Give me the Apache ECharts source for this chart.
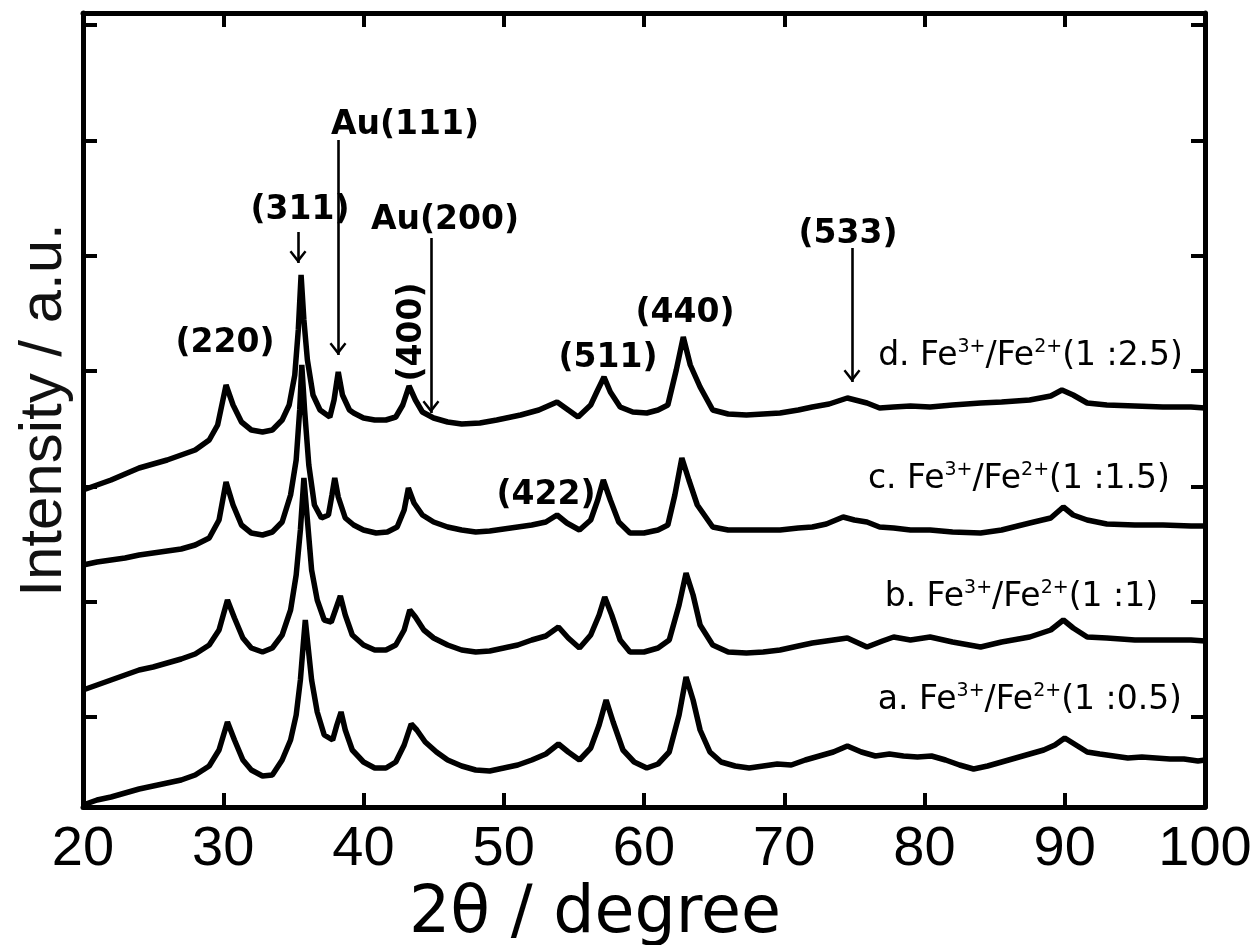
<!DOCTYPE html>
<html><head><meta charset="utf-8">
<script src="https://cdn.jsdelivr.net/npm/echarts@6/dist/echarts.min.js"></script>
<style>html,body{margin:0;padding:0;background:#fff}#chart{width:1260px;height:945px}</style>
</head><body><div id="chart"></div>
<script>
// ---- data (2θ in degrees, intensity in a.u., traces already vertically offset) ----
const theta_a = [20,21,22,23,24,25,26,27,28,29,29.7,30.3,30.8,31.4,32,32.8,33.5,34.2,34.8,35.2,35.5,35.7,35.85,36,36.3,36.7,37.2,37.8,38.1,38.4,38.7,39.2,40,40.8,41.6,42.3,42.9,43.4,43.8,44.4,45.2,46,47,48,49,50,51,52,53,53.9,54.6,55.4,56.2,56.8,57.3,57.8,58.5,59.3,60.2,61,61.8,62.5,63,63.5,64,64.7,65.5,66.5,67.5,68.5,69.5,70.5,71.5,72.5,73.5,74.5,75.5,76.5,77.5,78.5,79.5,80.5,81.5,82.5,83.5,84.5,85.5,86.5,87.5,88.5,89.3,90,90.8,91.6,92.5,93.5,94.5,95.5,96.5,97.5,98.5,99.5,100];
const int_a = [2,7,10,14,18,21,24,27,32,41,57,85,67,47,37,31,32,47,67,92,127,162,187,167,127,95,72,67,82,95,77,57,45,39,39,45,62,83,77,65,55,47,41,37,36,39,42,47,53,63,55,47,59,82,107,85,57,45,39,43,55,92,130,107,77,55,45,41,39,41,43,42,47,51,55,61,55,51,53,51,50,51,47,42,38,41,45,49,53,57,62,69,62,55,53,51,49,50,49,48,48,46,47];

const theta_b = [20,21,22,23,24,25,26,27,28,29,29.7,30.3,30.8,31.4,32,32.8,33.5,34.2,34.8,35.2,35.5,35.75,36,36.3,36.7,37.2,37.7,38,38.35,38.7,39.2,40,40.8,41.6,42.3,42.9,43.3,43.7,44.3,45,46,47,48,49,50,51,52,53,53.9,54.6,55.4,56.2,56.8,57.2,57.7,58.3,59,60,61,61.8,62.5,63,63.5,64,64.9,66,67.3,68.5,69.7,71,72,73,74.5,75.9,77,77.8,79,80.4,82,84,85.5,87.5,89,89.9,90.6,91.6,93,95,97,99,100];
const int_b = [117,122,127,132,137,140,144,148,153,162,177,207,189,169,159,155,159,172,197,232,277,329,287,237,207,187,185,197,211,192,172,162,157,157,162,177,197,190,177,169,162,157,155,156,159,162,167,171,180,169,159,172,192,210,192,167,155,155,159,167,202,234,212,182,162,155,154,155,157,161,164,166,169,160,166,170,167,170,165,160,165,170,177,187,179,170,169,167,167,167,166];

const theta_c = [20,21,22,23,24,25,26,27,28,29,29.7,30.2,30.7,31.3,32,32.8,33.5,34.2,34.8,35.2,35.45,35.6,35.8,36.1,36.5,37,37.5,37.75,37.95,38.2,38.7,39.3,40,40.9,41.7,42.4,42.9,43.2,43.6,44.2,45,46,47,48,49,50,51,52,53,53.8,54.5,55.4,56.2,56.7,57.1,57.6,58.2,59,60,61,61.7,62.2,62.7,63.2,63.8,64.9,66,67.3,68.5,69.7,71,72,73,74.2,75,75.9,76.8,77.8,79,80.4,82,84,85.5,87.5,89,89.9,90.6,91.6,93,95,97,99,100];
const int_c = [242,245,247,249,252,254,256,258,262,269,287,325,302,282,274,272,275,285,312,347,397,442,397,342,302,289,292,312,329,310,289,282,277,274,275,280,297,319,304,292,285,280,277,275,276,278,280,282,285,292,284,277,287,307,327,307,285,274,274,277,282,312,349,327,302,280,277,277,277,277,279,280,283,290,287,285,280,279,277,277,275,274,277,284,289,300,292,287,283,282,282,281,281];

const theta_d = [20,21,22,23,24,25,26,27,28,29,29.6,30.2,30.7,31.3,32,32.8,33.5,34.2,34.7,35.1,35.35,35.55,35.75,36,36.4,36.9,37.6,37.9,38.2,38.5,39,39.3,40,40.8,41.6,42.3,42.8,43.25,43.7,44.2,45,46,47,48.3,49.5,51.2,52.5,53.8,54.6,55.3,56.2,56.7,57.15,57.6,58.3,59.2,60.2,61,61.7,62.3,62.8,63.3,64,64.9,66,67.3,68.5,69.7,71,72,73.2,74.5,75.9,76.8,77.8,79,80.4,82,84,85.5,87.5,89,89.8,90.6,91.6,93,95,97,99,100];
const int_d = [317,322,327,333,339,343,347,352,357,367,382,422,402,385,377,375,377,387,402,432,477,532,487,447,412,397,390,407,435,412,397,394,389,387,387,390,402,421,407,395,389,385,383,384,387,392,397,405,397,390,402,417,430,415,400,395,394,397,402,437,470,442,420,397,393,392,393,394,397,400,403,409,404,399,400,401,400,402,404,405,407,411,417,412,404,402,401,400,400,399];

const sampleNames = ['a. Fe{s|3+}/Fe{s|2+}(1 :0.5)', 'b. Fe{s|3+}/Fe{s|2+}(1 :1)', 'c. Fe{s|3+}/Fe{s|2+}(1 :1.5)', 'd. Fe{s|3+}/Fe{s|2+}(1 :2.5)'];
const sampleLabelX = [98.36, 96.65, 97.5, 98.43];
const sampleLabelY = [107, 210, 328, 451];

const peakNames = ['(220)', '(311)', 'Au(111)', 'Au(200)', '(400)', '(422)', '(511)', '(440)', '(533)'];
const peakLabelX = [30.12, 35.47, 42.96, 45.81, 43.46, 53.01, 57.43, 62.92, 74.55];
const peakLabelY = [464, 597, 682, 587, 475, 312, 449, 494, 573];
const peakLabelRotate = [0, 0, 0, 0, 90, 0, 0, 0, 0];

const arrowX = [35.33, 38.18, 44.81, 74.83];
const arrowFromY = [575, 667, 569, 559];
const arrowToY = [544, 452, 394, 425];

const xMin = 20, xMax = 100, xStep = 10;
const yMin = 0, yMax = 794;

// ---- chart ----
const chart = echarts.init(document.getElementById('chart'), null, {renderer: 'canvas'});
const zip = (xs, ys) => xs.map((x, i) => [x, ys[i]]);
const traceStyle = {color: '#000', width: 5.5};
const chevron = 'path://M0,0L0,0M26,26L26,26M13,13L21.5,24L19.6,25.6L13,17.2L6.4,25.6L4.5,24Z';

const traces = [[theta_a, int_a], [theta_b, int_b], [theta_c, int_c], [theta_d, int_d]].map((t, k) => ({
  type: 'line', name: 'abcd'[k], xAxisIndex: 0, yAxisIndex: 0,
  data: zip(t[0], t[1]), showSymbol: false, symbol: 'none',
  lineStyle: traceStyle, itemStyle: {color: '#000'}, z: 3, animation: false
}));

const axisLineStyle = {color: '#000', width: 5};
const tickStyle = {color: '#000', width: 4};

chart.setOption({
  animation: false,
  backgroundColor: '#fff',
  grid: [
    {left: 83, right: 55, top: 13, bottom: 138, outerBoundsMode: 'none', containLabel: false},
    {left: 83, right: 55, top: 25, bottom: 228, outerBoundsMode: 'none', containLabel: false}
  ],
  xAxis: [
    {type: 'value', gridIndex: 0, min: xMin, max: xMax, interval: xStep, position: 'bottom',
     name: '2θ / degree', nameLocation: 'middle', nameGap: 54,
     nameTextStyle: {fontFamily: 'DejaVu Sans', fontSize: 65, color: '#000', padding: [0, 98, 0, 0]},
     axisLine: {show: true, onZero: false, lineStyle: axisLineStyle},
     axisTick: {show: true, inside: true, length: 14, lineStyle: tickStyle},
     axisLabel: {show: true, margin: 15, fontFamily: 'Liberation Sans', fontSize: 56, color: '#000'},
     splitLine: {show: false}},
    {type: 'value', gridIndex: 0, min: xMin, max: xMax, interval: xStep, position: 'top',
     axisLine: {show: true, onZero: false, lineStyle: axisLineStyle},
     axisTick: {show: true, inside: true, length: 14, lineStyle: tickStyle},
     axisLabel: {show: false}, splitLine: {show: false}},
    {type: 'value', gridIndex: 1, min: 0, max: 1, show: false}
  ],
  yAxis: [
    {type: 'value', gridIndex: 0, min: yMin, max: yMax, position: 'left',
     name: 'Intensity / a.u.', nameLocation: 'middle', nameGap: 9,
     nameTextStyle: {fontFamily: 'Liberation Sans', fontSize: 60, color: '#111'},
     axisLine: {show: true, onZero: false, lineStyle: axisLineStyle},
     axisTick: {show: false}, axisLabel: {show: false}, splitLine: {show: false}},
    {type: 'value', gridIndex: 0, min: yMin, max: yMax, position: 'right',
     axisLine: {show: true, onZero: false, lineStyle: axisLineStyle},
     axisTick: {show: false}, axisLabel: {show: false}, splitLine: {show: false}},
    {type: 'value', gridIndex: 1, min: 0, max: 6, interval: 1, position: 'left',
     axisLine: {show: false}, axisTick: {show: true, inside: true, length: 14, lineStyle: tickStyle},
     axisLabel: {show: false}, splitLine: {show: false}},
    {type: 'value', gridIndex: 1, min: 0, max: 6, interval: 1, position: 'right',
     axisLine: {show: false}, axisTick: {show: true, inside: true, length: 14, lineStyle: tickStyle},
     axisLabel: {show: false}, splitLine: {show: false}}
  ],
  series: traces.concat([
    {type: 'scatter', name: 'peaks', xAxisIndex: 0, yAxisIndex: 0, symbolSize: 0, z: 5, silent: true,
     itemStyle: {opacity: 1},
     data: peakNames.map((n, i) => ({value: [peakLabelX[i], peakLabelY[i]],
       label: {show: true, position: 'inside', formatter: n, rotate: peakLabelRotate[i], opacity: 1,
         fontFamily: 'DejaVu Sans', fontWeight: 'bold', fontSize: 33, color: '#000'}})),
     markLine: {silent: true, animation: false, symbol: ['none', chevron], symbolSize: 26,
       lineStyle: {color: '#000', width: 2.6, type: 'solid', opacity: 1}, label: {show: false},
       itemStyle: {color: '#000', opacity: 1},
       data: arrowX.map((x, i) => [{coord: [x, arrowFromY[i]]}, {coord: [x, arrowToY[i]]}])}},
    {type: 'scatter', name: 'samples', xAxisIndex: 0, yAxisIndex: 0, symbolSize: 0, z: 5, silent: true,
     itemStyle: {opacity: 1},
     data: sampleNames.map((n, i) => ({value: [sampleLabelX[i], sampleLabelY[i]],
       label: {show: true, position: 'left', distance: 0, formatter: n, opacity: 1,
         rich: {
           n: {fontFamily: 'DejaVu Sans', fontSize: 33, color: '#000', lineHeight: 36},
           s: {fontFamily: 'DejaVu Sans', fontSize: 19, color: '#000', lineHeight: 21, verticalAlign: 'top'}
         },
         fontFamily: 'DejaVu Sans', fontSize: 33, color: '#000', lineHeight: 36}}))},
    {type: 'line', xAxisIndex: 2, yAxisIndex: 2, data: [], silent: true}
  ])
});
</script></body></html>
